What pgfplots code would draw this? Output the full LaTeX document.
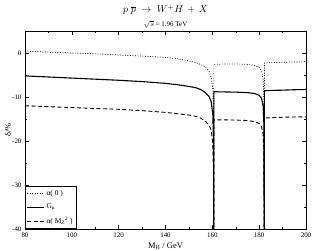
\documentclass[border=0pt]{standalone}
\usepackage{pgfplots}
\pgfplotsset{compat=1.18}
\usepackage{fontspec}
\setmainfont{Liberation Serif}
\begin{document}
\begin{tikzpicture}
\begin{axis}[
  scale only axis, width=281bp, height=198bp,
  xmin=80, xmax=200, ymin=-40, ymax=5,
  xtick={80,100,...,200}, minor x tick num=1,
  ytick={-40,-30,...,0}, minor y tick num=1,
  tick align=inside, xtick pos=both, ytick pos=both,
  major tick length=4bp, minor tick length=2bp,
  tick style={black, line width=0.5bp},
  axis line style={line width=0.6bp},
  /pgf/number format/assume math mode=true,
  tick label style={font=\fontsize{7}{8}\selectfont},
  legend style={at={(rel axis cs:0,0)}, anchor=south west, draw=black, line width=0.5bp,
    font=\fontsize{7.5}{9}\selectfont, inner sep=1.5bp, row sep=3bp,
    legend cell align=left},
  legend image post style={line width=0.8bp},
  legend image code/.code={\draw[#1] (0cm,0cm) -- (0.6cm,0cm);},
]
\addplot[black, line width=0.7bp, dash pattern=on 0.9bp off 1.6bp] coordinates {
(80,0.4) (90,0.2) (100,0.0) (110,-0.2) (120,-0.45) (130,-0.7) (140,-1.0) (145,-1.3)
(150,-1.8) (153,-2.2) (155,-2.6) (157,-3.2) (158.5,-4.0) (159.5,-5.5) (160.2,-8) (160.5,-14) (160.6,-45)
(160.65,-45) (160.65,-2.6) (165,-2.5) (170,-2.5) (175,-2.6) (178,-2.8) (180,-3.3) (181,-4.0)
(181.7,-6) (182.0,-10) (182.15,-45)
(182.25,-45) (182.25,-2.3) (185,-2.2) (190,-2.1) (195,-2.05) (200,-2.0)
};
\addlegendentry{α( 0 )}
\addplot[black, line width=1.1bp] coordinates {
(80,-5.2) (90,-5.45) (100,-5.7) (110,-5.95) (120,-6.2) (130,-6.5) (140,-6.9) (145,-7.2)
(150,-7.6) (153,-7.9) (155,-8.3) (157,-9.0) (158.5,-9.8) (159.5,-11) (160.2,-14) (160.5,-20) (160.6,-45)
(160.65,-45) (160.65,-8.8) (165,-8.85) (170,-8.9) (175,-9.0) (178,-9.2) (180,-9.6) (181,-10.3)
(181.7,-12) (182.0,-16) (182.15,-45)
(182.25,-45) (182.25,-8.6) (185,-8.5) (190,-8.45) (195,-8.35) (200,-8.3)
};
\addlegendentry{G\textsubscript{μ}}
\addplot[black, line width=0.9bp, dash pattern=on 4bp off 2.5bp] coordinates {
(80,-12.0) (90,-12.2) (100,-12.4) (110,-12.6) (120,-12.8) (130,-13.1) (140,-13.5) (145,-13.8)
(150,-14.1) (153,-14.4) (155,-14.8) (157,-15.5) (158.5,-16.3) (159.5,-17.5) (160.2,-20.5) (160.5,-26) (160.6,-45)
(160.65,-45) (160.65,-15.2) (165,-15.2) (170,-15.25) (175,-15.35) (178,-15.6) (180,-16) (181,-16.7)
(181.7,-18.5) (182,-22) (182.15,-45)
(182.25,-45) (182.25,-14.8) (185,-14.7) (190,-14.6) (195,-14.55) (200,-14.5)
};
\addlegendentry{α( M\textsubscript{Z}\textsuperscript{2} )}
\coordinate (ll) at (rel axis cs:0,0);
\coordinate (ur) at (rel axis cs:1,1);
\coordinate (tc) at (rel axis cs:0.5,1);
\coordinate (bc) at (rel axis cs:0.5,0);
\coordinate (lc) at (rel axis cs:0,0.5);
\end{axis}
\node[font=\fontsize{10}{12}\selectfont, inner sep=0pt] at ([yshift=21bp]tc) {$p\;\overline{p}\;\rightarrow\;W^{+}H\,+\,X$};
\node[font=\fontsize{7}{8}\selectfont, inner sep=0pt] at ([yshift=7bp]tc) {$\sqrt{s}$ = 1.96 TeV};
\node[font=\fontsize{8.5}{9}\selectfont] at ([yshift=-17bp]bc) {M\textsubscript{H} / GeV};
\node[font=\fontsize{8.5}{9}\selectfont, rotate=90] at ([xshift=-17bp]lc) {δ/\%};
\pgfresetboundingbox
\useasboundingbox ([xshift=-25bp,yshift=-22bp]ll) rectangle ([xshift=7bp,yshift=31bp]ur);
\end{tikzpicture}
\end{document}
